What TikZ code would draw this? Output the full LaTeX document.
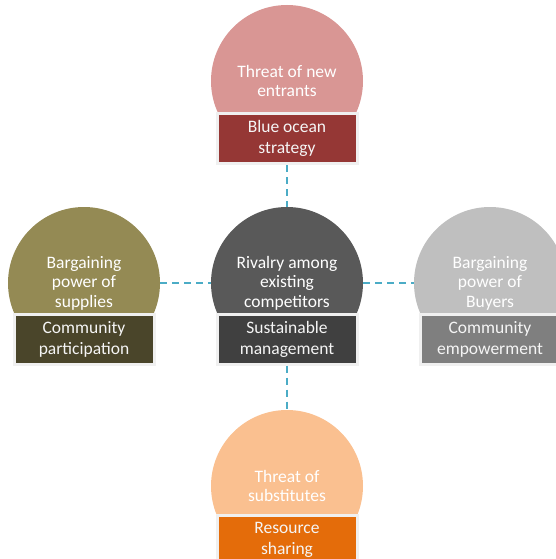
\documentclass[tikz,border=0pt]{standalone}
\usepackage{fontspec}
\setmainfont{Carlito}
\usetikzlibrary{positioning}
\definecolor{topc}{HTML}{D99694}
\definecolor{topb}{HTML}{953735}
\definecolor{leftc}{HTML}{948A54}
\definecolor{leftb}{HTML}{4A452A}
\definecolor{midc}{HTML}{595959}
\definecolor{midb}{HTML}{404040}
\definecolor{rightc}{HTML}{BFBFBF}
\definecolor{rightb}{HTML}{7F7F7F}
\definecolor{botc}{HTML}{FAC090}
\definecolor{botb}{HTML}{E46C0A}
\definecolor{dashc}{HTML}{4BACC6}
\tikzset{
  forcecircle/.style={circle, fill=#1, draw=none, minimum size=152pt, inner sep=0pt,
    text=white, align=center, font=\fontsize{17.5}{19.5}\selectfont},
  answerbox/.style={rectangle, fill=#1, draw=white!94!black, line width=3pt,
    minimum width=140pt, minimum height=50pt, inner sep=0pt,
    text=white!96!black, align=center, font=\fontsize{17.5}{21}\selectfont},
  linkline/.style={draw=dashc, line width=2pt, dash pattern=on 7pt off 5pt}
}
\begin{document}
\begin{tikzpicture}[x=1pt,y=-1pt]
\useasboundingbox (0,0) rectangle (556,559);
\clip (0,0) rectangle (556,559);
% circles
\node[forcecircle=topc] (ct) at (287,81) {Threat of new\\entrants};
\node[forcecircle=leftc] (cl) at (84,283) {Bargaining\\power of\\supplies};
\node[forcecircle=midc] (cm) at (287,283) {Rivalry among\\existing\\competitors};
\node[forcecircle=rightc] (cr) at (490,283) {Bargaining\\power of\\Buyers};
\node[forcecircle=botc] (cb) at (287,486) {Threat of\\substitutes};
% boxes
\node[answerbox=topb] (bt) at (287,138.5) {Blue ocean\\strategy};
\node[answerbox=leftb] (bl) at (84,339) {Community\\participation};
\node[answerbox=midb] (bm) at (287,339) {Sustainable\\management};
\node[answerbox=rightb] (br) at (490,339) {Community\\empowerment};
\node[answerbox=botb] (bb) at (287,540) {Resource\\sharing};
% connectors
\draw[linkline] (bt.south) -- (cm.north);
\draw[linkline] (bm.south) -- (cb.north);
\draw[linkline] (cl.east) -- (cm.west);
\draw[linkline] (cm.east) -- (cr.west);
\end{tikzpicture}
\end{document}
